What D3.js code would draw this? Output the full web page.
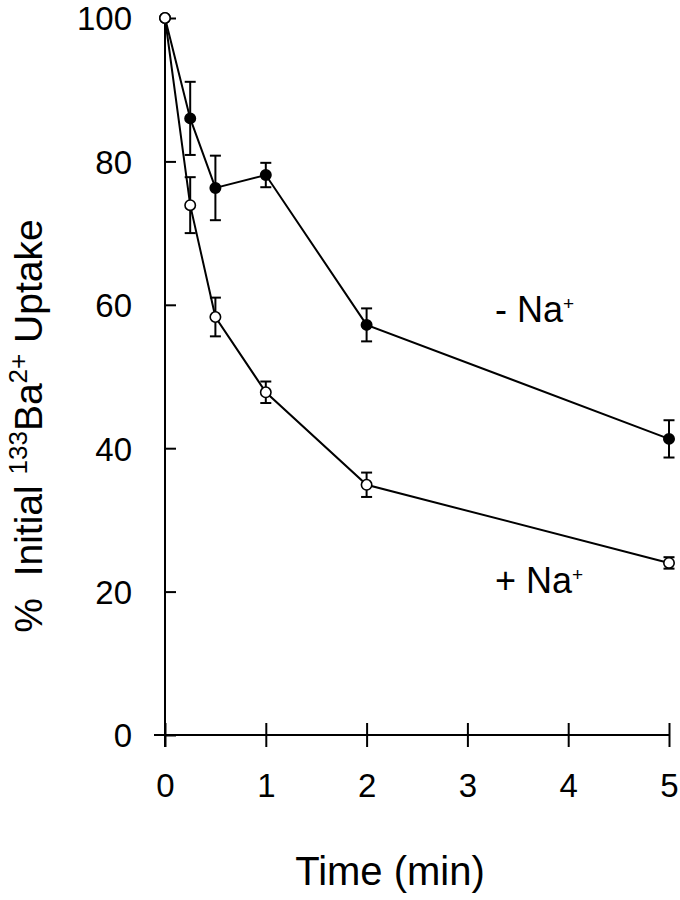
<!DOCTYPE html>
<html><head><meta charset="utf-8">
<script src="https://cdn.jsdelivr.net/npm/d3@7"></script>
<style>body{margin:0;background:#fff}svg{display:block}text{font-family:"Liberation Sans",Arial,sans-serif;fill:#000}</style>
</head><body>
<script>
const times = [0, 0.25, 0.5, 1, 2, 5];
const minusNa = [100, 86.0, 76.3, 78.1, 57.2, 41.3];
const minusNaErr = [0, 5.1, 4.5, 1.7, 2.3, 2.6];
const plusNa = [100, 73.9, 58.3, 47.8, 34.9, 24.0];
const plusNaErr = [0, 3.9, 2.7, 1.5, 1.7, 0.8];
const xTicks = [0, 1, 2, 3, 4, 5];
const yTicks = [0, 20, 40, 60, 80, 100];

const W = 680, H = 900;
const svg = d3.select("body").append("svg").attr("width", W).attr("height", H);
const x = d3.scaleLinear().domain([0, 5]).range([165, 669]);
const y = d3.scaleLinear().domain([0, 100]).range([735, 18]);
const FS = 33;

// axes
const xAxis = svg.append("g").attr("transform", `translate(0,${y(0)})`)
  .call(d3.axisBottom(x).tickValues(xTicks).tickSize(12).tickSizeOuter(0).tickPadding(25).tickFormat(d3.format("d")));
xAxis.select(".domain").remove();
xAxis.append("line").attr("x1", 154).attr("x2", x(5)).attr("stroke", "#000").attr("stroke-width", 2);
xAxis.selectAll(".tick line").attr("y1", -12).attr("stroke-width", 2);
xAxis.selectAll(".tick text").attr("font-size", FS).attr("font-family", "Liberation Sans, Arial").attr("dy", "0.75em");

const yAxis = svg.append("g").attr("transform", `translate(${x(0)},0)`)
  .call(d3.axisLeft(y).tickValues(yTicks).tickSize(11).tickSizeOuter(0).tickPadding(22).tickFormat(d3.format("d")));
yAxis.select(".domain").remove();
yAxis.append("line").attr("y1", y(100)).attr("y2", 747).attr("stroke", "#000").attr("stroke-width", 2);
yAxis.selectAll(".tick line").attr("x2", 11).attr("stroke-width", 2);
yAxis.selectAll(".tick text").attr("font-size", FS).attr("font-family", "Liberation Sans, Arial").attr("dy", "0.36em");

// series
const series = [
  {vals: minusNa, err: minusNaErr, fill: "#000"},
  {vals: plusNa, err: plusNaErr, fill: "#fff"}
];
const line = d3.line().x((d, i) => x(times[i])).y(d => y(d));
series.forEach(s => {
  const g = svg.append("g");
  g.append("path").attr("d", line(s.vals)).attr("fill", "none").attr("stroke", "#000").attr("stroke-width", 2);
  s.vals.forEach((v, i) => {
    if (s.err[i] > 0) {
      const cx = x(times[i]);
      g.append("line").attr("x1", cx).attr("x2", cx).attr("y1", y(v + s.err[i])).attr("y2", y(v - s.err[i])).attr("stroke", "#000").attr("stroke-width", 2);
      [v + s.err[i], v - s.err[i]].forEach(e => g.append("line").attr("x1", cx - 5.5).attr("x2", cx + 5.5).attr("y1", y(e)).attr("y2", y(e)).attr("stroke", "#000").attr("stroke-width", 2));
    }
  });
  g.selectAll("circle").data(s.vals).join("circle")
    .attr("cx", (d, i) => x(times[i])).attr("cy", d => y(d)).attr("r", 5.2)
    .attr("fill", s.fill).attr("stroke", "#000").attr("stroke-width", 1.6);
});

// series labels
function naLabel(txt, px, py) {
  const t = svg.append("text").attr("x", px).attr("y", py).attr("font-size", 36);
  t.append("tspan").text(txt + "Na");
  t.append("tspan").attr("font-size", 19).attr("dy", -12).text("+");
}
naLabel("- ", 495, 322);
naLabel("+ ", 495, 593);

// axis titles
svg.append("text").attr("x", 390).attr("y", 885).attr("text-anchor", "middle").attr("font-size", 40).text("Time (min)");
const yt = svg.append("text").attr("transform", `translate(42,426) rotate(-90)`).attr("text-anchor", "middle").attr("font-size", 39).attr("xml:space", "preserve");
yt.append("tspan").text("%  Initial ");
yt.append("tspan").attr("font-size", 26).attr("dy", -15).text("133");
yt.append("tspan").attr("dy", 15).text("Ba");
yt.append("tspan").attr("font-size", 26).attr("dy", -15).text("2+");
yt.append("tspan").attr("dy", 15).text(" Uptake");
</script>
</body></html>
